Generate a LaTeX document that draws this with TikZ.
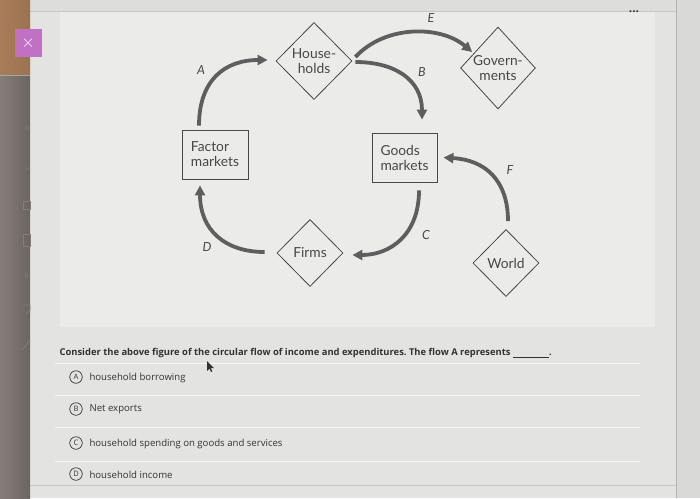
\documentclass[tikz,border=0pt]{standalone}
\usepackage{fontspec}
\setmainfont{Open Sans}
\newfontfamily\diag{Lato}
\usetikzlibrary{shapes.geometric,arrows.meta,calc}
\frenchspacing
\definecolor{bgmain}{HTML}{E3E3E1}
\definecolor{bgpanel}{HTML}{EBEBEA}
\definecolor{bgright}{HTML}{D9D9D7}
\definecolor{strip}{HTML}{857D79}
\definecolor{ink}{HTML}{474747}
\definecolor{flowc}{HTML}{5E5E5E}
\definecolor{qink}{HTML}{333333}
\definecolor{xbtn}{HTML}{C270C4}
\tikzset{
  box/.style={draw=ink,line width=0.8pt,fill=bgpanel,minimum width=66pt,minimum height=49pt,inner sep=1pt,align=left,font=\diag\fontsize{13.8}{15}\selectfont,text=ink},
  dia/.style={draw=ink,line width=0.8pt,fill=bgpanel,diamond,inner sep=0pt,align=center,font=\diag\fontsize{13.8}{15}\selectfont,text=ink},
  flow/.style={draw=flowc,line width=3.8pt,-{Triangle[length=10pt,width=10pt]}},
  lab/.style={font=\diag\itshape\fontsize{12.5}{14}\selectfont,text=ink},
  opt/.style={font=\fontsize{9.6}{11}\selectfont,text=qink,anchor=west},
  circ/.style={draw=qink,circle,line width=0.7pt,minimum size=12.5pt,inner sep=0pt,font=\fontsize{7.5}{8}\selectfont,text=qink},
}
\begin{document}
\begin{tikzpicture}[x=1pt,y=-1pt]
\useasboundingbox (0,0) rectangle (700,498);
% backgrounds
\fill[bgmain] (0,0) rectangle (700,498);
\fill[bgright] (676,0) rectangle (700,498);
\draw[gray!60,line width=0.6pt] (676,0) -- (676,498);
\fill[bgright!60!bgmain] (30,0) rectangle (676,11);
\draw[gray!45,line width=0.5pt] (30,11) -- (676,11);
\fill[bgpanel] (60,12) rectangle (655,327);
% left strip
\fill[left color=strip,right color=strip!80!black] (0,0) rectangle (30,498);
\fill[orange!45!strip,opacity=0.6] (0,0) rectangle (30,75);
\draw[gray!70,line width=0.5pt] (0,75) -- (30,75);
\node[fill=xbtn,minimum width=27pt,minimum height=28pt,inner sep=0pt,text=white,font=\sffamily\fontsize{16}{16}\selectfont] (xb) at (28,43) {$\times$};
% faint sidebar icons
\begin{scope}[draw=gray!55!strip,line width=0.7pt,text=gray!55!strip,font=\sffamily\fontsize{7}{7}\selectfont]
\node (i1) at (27,128) {D};
\node (i2) at (27,170) {$\rho$};
\draw (23,201) rectangle (30,209);
\draw (23,234) rectangle (30,246);
\node (i5) at (27,276) {R};
\draw (23,305) -- (30,305) -- (30,310) -- (26,314);
\draw (22,350) -- (30,340);
\end{scope}
% ellipsis
\node[text=gray!50!black,font=\fontsize{12}{12}\selectfont] (dots) at (634,12) {\textbf{...}};

% diagram nodes
\node[dia,minimum width=76pt,minimum height=77pt] (hh) at (314,61) {House-\\holds};
\node[dia,minimum width=74pt,minimum height=82pt] (gov) at (498,68) {Govern-\\ments};
\node[box] (fm) at (215,154.5) {Factor\\markets};
\node[box,minimum width=65pt] (gm) at (404.5,157.5) {Goods\\markets};
\node[dia,minimum width=66pt,minimum height=67pt] (firms) at (310,253) {Firms};
\node[dia,minimum width=66pt,minimum height=67pt] (world) at (506,263) {World};

% flows
\draw[flow] ($(fm.north)+(-16,-4)$) .. controls (199,80) and (225,60) .. ($(hh.west)+(-8,-1)$);
\draw[flow] ($(hh.east)+(3,-4)$) .. controls (385,25) and (440,25) .. ($(gov.west)+(12,-16)$);
\draw[flow] ($(hh.east)+(3,1)$) .. controls (395,62) and (422,80) .. ($(gm.north)+(17.5,-13)$);
\draw[flow] ($(gm.south)+(14.5,8)$) .. controls (419,235) and (390,255) .. ($(firms.east)+(9,2)$);
\draw[flow] ($(firms.west)+(-12,-1)$) .. controls (225,252) and (200,230) .. ($(fm.south)+(-15,6)$);
\draw[flow] ($(world.north)+(2,-8)$) .. controls (508,180) and (485,160) .. ($(gm.east)+(6,0)$);

% labels
\node[lab] (la) at (201,70) {A};
\node[lab] (le) at (431,18) {E};
\node[lab] (lb) at (422,72) {B};
\node[lab] (lf) at (510,170) {F};
\node[lab] (lc) at (426,235) {C};
\node[lab] (ld) at (207,247) {D};

% question area
\draw[white!70!bgmain,line width=0.8pt] (55,363) -- (640,363);
\draw[white!70!bgmain,line width=0.8pt] (55,395) -- (640,395);
\draw[white!70!bgmain,line width=0.8pt] (55,427) -- (640,427);
\draw[white!70!bgmain,line width=0.8pt] (55,461) -- (640,461);
\draw[gray!45,line width=0.6pt] (30,485) -- (676,485);
\node[anchor=west,text=qink,font=\bfseries\fontsize{9.4}{11}\selectfont] (q) at (56,353) {Consider the above figure of the circular flow of income and expenditures. The flow A represents \underline{\hspace{36pt}}.};
\node[circ] (ca) at (76,377) {A};
\node[opt] (ta) at (86,377.5) {household borrowing};
\node[circ] (cb) at (76,409) {B};
\node[opt] (tb) at (86,409.5) {Net exports};
\node[circ] (cc) at (76,443) {C};
\node[opt] (tc) at (86,443.5) {household spending on goods and services};
\node[circ] (cd) at (76,474) {D};
\node[opt] (td) at (86,474.5) {household income};
% mouse cursor
\fill[black!80] (207,361) -- (207,371) -- (209.5,368.5) -- (211,372) -- (212.3,371.4) -- (210.8,368) -- (214,368) -- cycle;
\end{tikzpicture}
\end{document}
